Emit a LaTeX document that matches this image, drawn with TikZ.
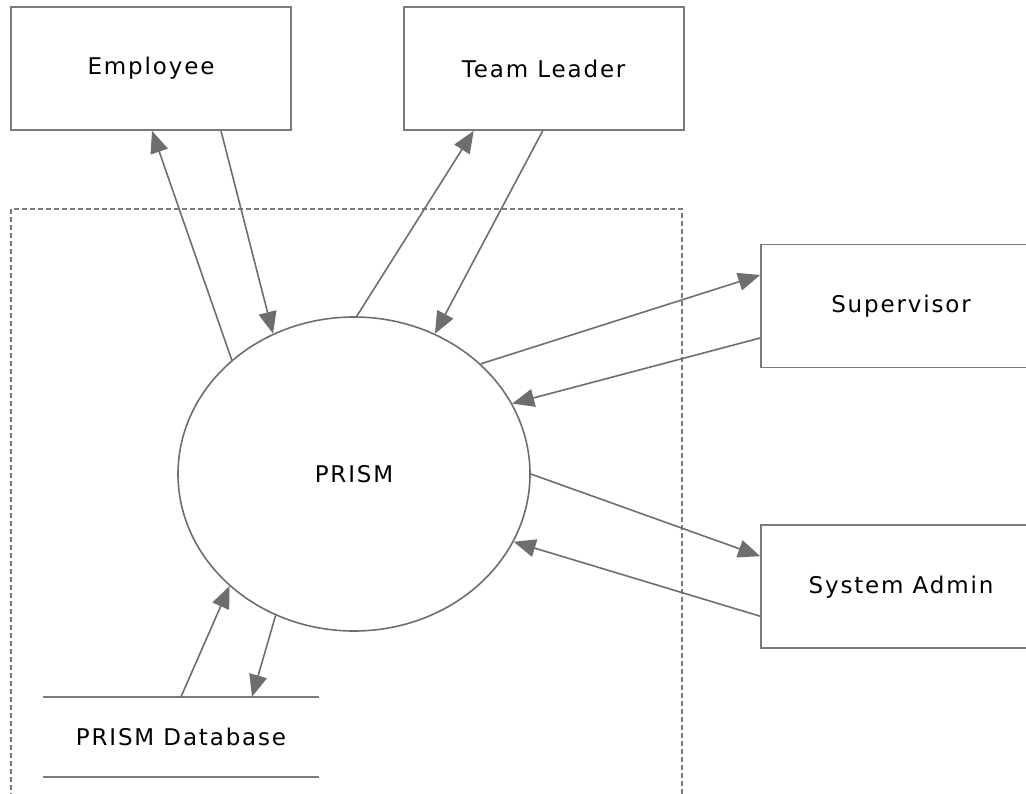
\documentclass[tikz,border=0pt]{standalone}
\usepackage{fontspec}
\setmainfont{DejaVu Sans}[LetterSpace=8]
\usetikzlibrary{positioning,shapes.geometric,arrows.meta}
\definecolor{edgegray}{HTML}{6E6E6E}
\definecolor{boxgray}{HTML}{7A7A7A}
\newcommand{\lbl}{\fontsize{23}{27}\selectfont}
\tikzset{extent/.style={rectangle,draw=boxgray,line width=1.7pt,fill=white,minimum width=280pt,minimum height=123pt,inner sep=0pt,font=\lbl},
	 proc/.style={ellipse,draw=edgegray,line width=1.6pt,fill=white,minimum width=352pt,minimum height=314pt,inner sep=0pt,font=\lbl},
	 store/.style={rectangle,fill=white,minimum width=276pt,minimum height=80pt,inner sep=0pt,font=\lbl},
	 flow/.style={draw=edgegray,line width=1.6pt,-{Triangle[length=22pt,width=18pt]}},
	 node distance = 111pt
	 }

\begin{document}
\begin{tikzpicture}[x=1pt,y=-1pt] % context diagram of PRISM
	\useasboundingbox (0,0) rectangle (1026,793);
	\draw [boxgray,line width=1.4pt,dash pattern=on 5pt off 3pt] (11,209) rectangle (682,810);
	\node[extent] (emp) at (151,68.5) {Employee};
	\node[extent] (tl) [right= of emp] {Team Leader};
	\node[extent] (sup) at (901,306) {Supervisor};
	\node[extent] (adm) [below=156pt of sup] {System Admin};
	\node[proc] (prism) at (354,474) {PRISM};
	\node[store] (db) at (181,737) {PRISM Database};
	\draw [boxgray,line width=1.7pt] (db.north west) -- (db.north east);
	\draw [boxgray,line width=1.7pt] (db.south west) -- (db.south east);
	\draw [flow] (prism.137.7) to ([xshift=1pt]emp.south);
	\draw [flow] ([xshift=70pt]emp.south) to (prism.120.4);
	\draw [flow] (prism.89.3) to ([xshift=-70pt]tl.south);
	\draw [flow] ([xshift=-1pt]tl.south) to (prism.60.9);
	\draw [flow] (prism.41.9) to ([yshift=31pt]sup.west);
	\draw [flow] ([yshift=-32pt]sup.west) to (prism.24.5);
	\draw [flow] (prism.-0.6) to ([yshift=30.5pt]adm.west);
	\draw [flow] ([yshift=-29.5pt]adm.west) to (prism.-23.7);
	\draw [flow] (db.north) to (prism.222.1);
	\draw [flow] (prism.241) to ([xshift=71pt]db.north);
\end{tikzpicture}
\end{document}
